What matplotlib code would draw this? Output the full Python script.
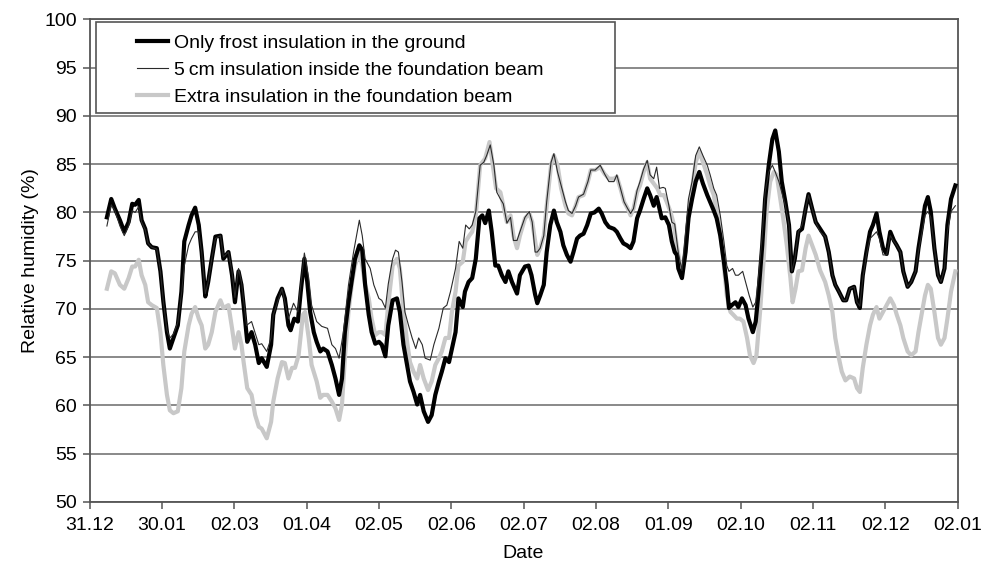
import matplotlib
matplotlib.use("Agg")
import matplotlib.pyplot as plt
from matplotlib.patches import Rectangle

plt.rcParams['font.family'] = ['Liberation Sans', 'DejaVu Sans']

date_labels = ["31.12", "30.01", "02.03", "01.04", "02.05", "02.06", "02.07",
               "02.08", "01.09", "02.10", "02.11", "02.12", "02.01"]
y_ticks = [50, 55, 60, 65, 70, 75, 80, 85, 90, 95, 100]

series_names = ["Only frost insulation in the ground",
                "5\u2009cm insulation inside the foundation beam",
                "Extra insulation in the foundation beam"]

# positions in units of the date ticks (0 = 31.12, 12 = 02.01)
frost_x = [0.24, 0.30, 0.35, 0.42, 0.48, 0.54, 0.59, 0.63, 0.68, 0.72, 0.77, 0.81, 0.86, 0.93, 0.98,
           1.02, 1.07, 1.11, 1.16, 1.22, 1.27, 1.31, 1.37, 1.41, 1.46, 1.51, 1.55, 1.60, 1.64, 1.69,
           1.74, 1.81, 1.85, 1.92, 1.97, 2.01, 2.06, 2.10, 2.13, 2.18, 2.24, 2.29, 2.34, 2.38, 2.45,
           2.51, 2.54, 2.60, 2.66, 2.70, 2.75, 2.78, 2.83, 2.88, 2.92, 2.97, 3.01, 3.05, 3.10, 3.14,
           3.19, 3.23, 3.29, 3.35, 3.40, 3.45, 3.49, 3.53, 3.58, 3.63, 3.67, 3.73, 3.77, 3.81, 3.86,
           3.90, 3.95, 4.00, 4.04, 4.09, 4.13, 4.19, 4.25, 4.29, 4.34, 4.39, 4.43, 4.48, 4.53, 4.57,
           4.62, 4.68, 4.73, 4.78, 4.83, 4.87, 4.92, 4.97, 5.01, 5.06, 5.10, 5.16, 5.19, 5.24, 5.29,
           5.34, 5.39, 5.43, 5.47, 5.52, 5.56, 5.61, 5.65, 5.70, 5.75, 5.79, 5.84, 5.91, 5.95, 6.02,
           6.07, 6.11, 6.16, 6.19, 6.23, 6.28, 6.32, 6.37, 6.42, 6.46, 6.51, 6.55, 6.60, 6.65, 6.69,
           6.74, 6.78, 6.83, 6.88, 6.93, 6.98, 7.04, 7.08, 7.13, 7.18, 7.25, 7.29, 7.34, 7.38, 7.43,
           7.48, 7.52, 7.57, 7.61, 7.66, 7.71, 7.75, 7.80, 7.84, 7.87, 7.91, 7.96, 8.01, 8.05, 8.09,
           8.12, 8.14, 8.19, 8.24, 8.28, 8.33, 8.38, 8.43, 8.48, 8.54, 8.58, 8.63, 8.67, 8.72, 8.77,
           8.81, 8.84, 8.88, 8.93, 8.97, 9.02, 9.07, 9.11, 9.17, 9.21, 9.25, 9.30, 9.34, 9.39, 9.44,
           9.48, 9.53, 9.57, 9.62, 9.67, 9.71, 9.75, 9.80, 9.85, 9.90, 9.94, 9.99, 10.04, 10.10, 10.17,
           10.22, 10.27, 10.31, 10.36, 10.42, 10.46, 10.51, 10.57, 10.61, 10.65, 10.69, 10.74, 10.79,
           10.83, 10.88, 10.92, 10.97, 11.02, 11.07, 11.12, 11.16, 11.21, 11.25, 11.31, 11.36, 11.42,
           11.46, 11.51, 11.55, 11.59, 11.63, 11.68, 11.73, 11.77, 11.82, 11.86, 11.91, 11.97]
frost_y = [79.5, 81.4, 80.4, 79.2, 78.0, 79.0, 80.9, 80.8, 81.3, 79.2, 78.3, 76.8, 76.4, 76.3, 73.9,
           70.8, 67.6, 65.9, 67.0, 68.3, 71.8, 77.0, 78.7, 79.7, 80.5, 78.7, 75.9, 71.3, 72.8, 75.2,
           77.5, 77.6, 75.2, 75.9, 73.5, 70.7, 73.9, 72.5, 70.4, 66.6, 67.6, 66.3, 64.4, 64.9, 64.0,
           66.3, 69.4, 71.1, 72.1, 71.1, 68.3, 67.8, 69.0, 68.7, 71.8, 75.2, 72.8, 69.7, 67.6, 66.6,
           65.6, 65.9, 65.6, 64.2, 62.8, 61.1, 62.8, 67.6, 70.7, 73.2, 75.2, 76.6, 76.1, 72.5, 69.4,
           67.6, 66.4, 66.6, 66.3, 65.1, 68.3, 70.9, 71.1, 69.7, 66.3, 64.2, 62.5, 61.4, 60.1, 61.1,
           59.4, 58.3, 59.0, 61.1, 62.5, 63.5, 64.9, 64.5, 65.9, 67.6, 71.1, 70.2, 71.8, 72.8, 73.2,
           75.2, 79.4, 79.7, 78.9, 80.2, 78.0, 74.5, 74.5, 73.5, 72.8, 73.9, 72.8, 71.6, 73.5, 74.4,
           74.5, 73.5, 71.5, 70.6, 71.4, 72.5, 75.9, 78.7, 80.2, 79.0, 78.0, 76.6, 75.6, 74.9, 75.9,
           77.3, 77.6, 77.8, 78.7, 79.9, 80.0, 80.4, 79.9, 79.0, 78.5, 78.3, 78.0, 77.3, 76.8, 76.6,
           76.3, 77.0, 79.4, 80.2, 81.4, 82.5, 81.8, 80.7, 81.6, 80.7, 79.4, 79.5, 78.7, 77.0, 75.9,
           75.6, 74.2, 73.2, 75.9, 79.4, 81.4, 83.2, 84.2, 83.0, 81.8, 81.1, 80.2, 79.4, 77.6, 74.9,
           72.5, 70.1, 70.4, 70.7, 70.2, 71.1, 70.4, 69.0, 67.6, 68.7, 71.8, 76.6, 81.4, 84.9, 87.6,
           88.5, 86.3, 83.2, 81.1, 78.7, 73.9, 75.2, 78.0, 78.3, 80.4, 81.9, 80.4, 79.0, 78.3, 77.5,
           75.9, 73.5, 72.5, 71.8, 70.9, 70.9, 72.1, 72.3, 70.7, 70.1, 73.5, 75.9, 78.0,
           78.7, 79.9, 78.0, 76.3, 75.7, 78.0, 77.1, 76.6, 75.9, 73.9, 72.3, 72.8, 73.9,
           76.3, 78.7, 80.7, 81.6, 80.1, 76.3, 73.5, 72.8, 74.2, 78.7, 81.4, 82.8]

beam5_x = [0.24, 0.30, 0.35, 0.42, 0.48, 0.54, 0.59, 0.63, 0.68, 0.72, 0.77, 0.81, 0.86, 0.93, 0.98,
           1.02, 1.07, 1.11, 1.16, 1.22, 1.27, 1.31, 1.37, 1.41, 1.46, 1.51, 1.55, 1.60, 1.64, 1.69,
           1.74, 1.81, 1.85, 1.92, 1.97, 2.01, 2.06, 2.10, 2.17, 2.24, 2.34, 2.38, 2.45, 2.51, 2.54,
           2.66, 2.75, 2.82, 2.88, 2.92, 2.97, 3.03, 3.07, 3.14, 3.21, 3.29, 3.35, 3.40, 3.45, 3.51,
           3.58, 3.65, 3.73, 3.77, 3.81, 3.88, 3.93, 4.00, 4.04, 4.09, 4.13, 4.19, 4.23, 4.27, 4.32,
           4.36, 4.41, 4.46, 4.51, 4.55, 4.60, 4.64, 4.71, 4.76, 4.83, 4.89, 4.94, 4.99, 5.06, 5.11,
           5.16, 5.20, 5.25, 5.29, 5.34, 5.40, 5.45, 5.49, 5.54, 5.59, 5.63, 5.68, 5.72, 5.77, 5.82,
           5.86, 5.91, 5.95, 6.02, 6.08, 6.12, 6.16, 6.19, 6.23, 6.28, 6.32, 6.38, 6.42, 6.47, 6.52,
           6.58, 6.62, 6.67, 6.72, 6.76, 6.83, 6.89, 6.93, 6.99, 7.06, 7.12, 7.18, 7.25, 7.29, 7.34,
           7.39, 7.44, 7.48, 7.52, 7.57, 7.61, 7.66, 7.71, 7.75, 7.80, 7.84, 7.88, 7.93, 7.96, 8.01,
           8.05, 8.09, 8.14, 8.19, 8.24, 8.28, 8.33, 8.38, 8.43, 8.48, 8.54, 8.58, 8.63, 8.67, 8.72,
           8.77, 8.81, 8.84, 8.89, 8.93, 8.97, 9.03, 9.07, 9.12, 9.17, 9.21, 9.25, 9.30, 9.34, 9.39,
           9.44, 9.48, 9.53, 9.57, 9.62, 9.67, 9.71, 9.75, 9.80, 9.85, 9.90, 9.94, 9.99, 10.04, 10.10,
           10.17, 10.22, 10.27, 10.31, 10.36, 10.42, 10.46, 10.51, 10.57, 10.61, 10.65, 10.69, 10.74,
           10.79, 10.83, 10.88, 10.92, 10.97, 11.02, 11.07, 11.12, 11.16, 11.21, 11.25, 11.31, 11.36,
           11.42, 11.46, 11.51, 11.55, 11.59, 11.63, 11.68, 11.73, 11.77, 11.82, 11.86, 11.91, 11.97]
beam5_y = [78.6, 80.8, 80.2, 78.6, 77.6, 78.6, 80.2, 80.0, 80.6, 79.0, 78.2, 76.8, 76.4, 76.2, 73.9,
           70.8, 67.8, 67.0, 67.4, 68.6, 71.5, 74.5, 76.6, 77.3, 78.0, 78.0, 75.9, 71.6, 72.8, 75.2,
           77.3, 77.6, 75.4, 75.9, 73.8, 71.2, 74.2, 72.8, 68.3, 68.7, 66.3, 66.4, 65.6, 67.0, 69.4,
           72.1, 69.0, 70.6, 69.7, 72.5, 75.8, 73.2, 70.4, 68.7, 68.2, 68.0, 66.3, 65.9, 64.9, 67.6,
           72.5, 75.9, 79.2, 77.6, 75.2, 74.2, 72.5, 71.1, 70.9, 70.1, 72.6, 75.2, 76.1, 75.9, 72.8,
           69.7, 68.3, 67.0, 65.9, 67.0, 66.3, 64.9, 64.7, 66.3, 68.0, 70.1, 70.4, 71.8, 74.2, 77.0,
           76.3, 78.7, 78.3, 78.7, 80.1, 84.9, 85.2, 85.9, 87.0, 84.9, 82.1, 81.4, 80.9, 78.9, 79.5,
           77.1, 77.1, 78.0, 79.5, 80.1, 79.0, 75.9, 75.9, 76.3, 77.6, 81.1, 85.2, 86.1, 84.2, 82.8,
           81.1, 80.2, 79.9, 80.7, 81.6, 81.9, 83.2, 84.4, 84.4, 84.9, 84.0, 83.2, 83.2, 83.9, 82.5,
           81.1, 80.4, 79.9, 80.4, 82.3, 83.2, 84.5, 85.4, 83.9, 83.5, 84.7, 82.5, 82.6, 82.5, 80.7,
           79.0, 78.8, 75.8, 74.0, 78.0, 81.4, 83.2, 85.9, 86.8, 85.9, 84.9, 83.9, 82.5, 81.8, 79.7,
           77.0, 74.5, 73.9, 74.2, 73.5, 73.5, 73.9, 72.8, 71.4, 70.2, 70.7, 73.5, 77.6, 82.1, 84.2,
           84.9, 84.2, 83.2, 82.1, 80.7, 78.7, 73.9, 75.2, 78.0, 78.7, 80.4, 81.8, 80.4, 79.0, 78.0,
           77.5, 75.9, 73.5, 72.5, 71.8, 70.9, 70.9, 72.1, 72.3, 70.7, 70.3, 73.2, 75.6,
           77.3, 77.6, 78.0, 77.3, 75.6, 75.6, 77.6, 77.0, 76.6, 75.9, 73.9, 72.3, 72.8,
           73.9, 76.0, 78.0, 79.7, 80.1, 79.5, 76.3, 73.5, 72.8, 74.2, 78.0, 80.1, 80.7]

extra_x = [0.24, 0.30, 0.35, 0.42, 0.48, 0.54, 0.59, 0.63, 0.68, 0.72, 0.77, 0.81, 0.86, 0.93, 0.98,
           1.02, 1.07, 1.11, 1.16, 1.22, 1.27, 1.31, 1.37, 1.41, 1.46, 1.51, 1.55, 1.60, 1.64, 1.69,
           1.74, 1.81, 1.85, 1.92, 1.97, 2.01, 2.06, 2.10, 2.13, 2.18, 2.24, 2.29, 2.34, 2.38, 2.45,
           2.51, 2.54, 2.60, 2.66, 2.70, 2.75, 2.80, 2.84, 2.89, 2.95, 2.98, 3.03, 3.07, 3.14, 3.19,
           3.23, 3.29, 3.35, 3.40, 3.45, 3.49, 3.53, 3.58, 3.63, 3.67, 3.73, 3.77, 3.81, 3.86, 3.90,
           3.95, 4.00, 4.04, 4.09, 4.13, 4.19, 4.25, 4.29, 4.34, 4.39, 4.43, 4.48, 4.53, 4.57, 4.62,
           4.68, 4.73, 4.78, 4.83, 4.87, 4.92, 4.97, 5.01, 5.06, 5.10, 5.16, 5.20, 5.25, 5.29, 5.34,
           5.40, 5.47, 5.53, 5.57, 5.62, 5.68, 5.72, 5.77, 5.82, 5.86, 5.91, 5.95, 6.02, 6.08, 6.12,
           6.19, 6.23, 6.28, 6.32, 6.38, 6.42, 6.47, 6.52, 6.58, 6.62, 6.67, 6.72, 6.76, 6.83, 6.89,
           6.93, 6.99, 7.06, 7.12, 7.18, 7.25, 7.29, 7.34, 7.39, 7.44, 7.48, 7.52, 7.57, 7.61, 7.66,
           7.71, 7.75, 7.80, 7.85, 7.89, 7.94, 7.98, 8.03, 8.08, 8.12, 8.19, 8.24, 8.28, 8.33, 8.38,
           8.43, 8.48, 8.54, 8.58, 8.63, 8.67, 8.72, 8.77, 8.81, 8.86, 8.90, 8.95, 8.99, 9.04, 9.09,
           9.13, 9.18, 9.22, 9.27, 9.32, 9.36, 9.41, 9.46, 9.50, 9.55, 9.59, 9.64, 9.69, 9.72, 9.76,
           9.80, 9.85, 9.90, 9.94, 9.99, 10.04, 10.10, 10.17, 10.22, 10.27, 10.31, 10.36, 10.40, 10.45,
           10.51, 10.57, 10.61, 10.65, 10.69, 10.74, 10.79, 10.83, 10.88, 10.92, 10.97, 11.02, 11.07,
           11.12, 11.16, 11.21, 11.25, 11.31, 11.36, 11.42, 11.46, 11.51, 11.55, 11.59, 11.63, 11.68,
           11.73, 11.77, 11.82, 11.86, 11.91, 11.97]
extra_y = [72.1, 73.9, 73.7, 72.5, 72.1, 73.2, 74.4, 74.4, 75.1, 73.5, 72.5, 70.7, 70.4, 70.1, 67.6,
           64.2, 61.1, 59.5, 59.2, 59.4, 61.8, 65.6, 68.3, 69.5, 70.2, 69.0, 68.3, 65.9, 66.3, 67.6,
           69.7, 70.9, 70.1, 70.4, 68.0, 65.9, 67.6, 66.3, 64.5, 61.8, 61.1, 59.0, 57.8, 57.6, 56.6,
           58.3, 60.4, 62.8, 64.5, 64.4, 62.8, 63.9, 63.9, 65.2, 69.4, 69.7, 67.0, 64.2, 62.5, 60.8,
           61.1, 61.1, 60.4, 59.7, 58.5, 60.1, 64.9, 69.7, 72.8, 74.5, 75.9, 74.5, 72.5, 71.1, 69.0,
           67.3, 67.6, 67.6, 67.3, 70.5, 74.5, 75.2, 74.2, 69.7, 66.6, 64.5, 63.5, 62.8, 64.2, 62.8,
           61.6, 62.5, 64.2, 64.9, 65.6, 67.0, 67.0, 69.7, 71.8, 74.5, 74.9, 77.0, 77.6, 78.0, 79.7,
           84.9, 85.6, 87.3, 85.2, 82.5, 82.1, 80.7, 79.0, 79.7, 77.6, 76.3, 77.6, 79.4, 79.9, 79.0,
           75.6, 76.3, 77.6, 80.7, 84.9, 85.9, 84.9, 82.5, 80.7, 79.9, 79.7, 80.7, 81.6, 81.8, 83.2,
           84.4, 84.4, 84.7, 84.0, 83.5, 83.5, 83.7, 82.5, 81.1, 80.4, 79.7, 80.4, 82.1, 82.8, 84.2,
           85.2, 83.5, 83.0, 82.5, 81.8, 81.8, 81.1, 80.1, 78.7, 76.5, 73.5, 76.3, 79.4, 82.5, 85.2,
           86.3, 85.2, 83.9, 82.8, 81.8, 80.1, 78.0, 74.5, 71.4, 69.7, 69.4, 69.0, 69.0, 68.7, 67.0,
           65.2, 64.4, 65.2, 69.7, 75.2, 80.1, 83.2, 84.2, 83.9, 81.4, 79.4, 76.6, 73.2, 70.7, 72.1,
           73.9, 74.0, 76.3, 77.6, 76.6, 75.6, 74.0, 72.8, 71.4, 69.7, 67.0, 64.9, 63.5, 62.6,
           63.0, 62.8, 61.8, 61.4, 63.9, 66.3, 68.3, 69.4, 70.2, 69.0, 69.7, 70.4, 71.1,
           70.4, 69.4, 68.3, 67.0, 65.6, 65.2, 65.6, 67.6, 69.7, 71.4, 72.5, 72.1, 69.7,
           67.0, 66.3, 67.0, 69.0, 71.8, 73.9]

FS = 14

fig = plt.figure(figsize=(9.84, 5.68), dpi=100)
ax = fig.add_axes([0.091, 0.1162, 0.8821, 0.8495])

ax.plot(extra_x, extra_y, color='#c8c8c8', lw=3.0, zorder=3, label=series_names[2],
        solid_joinstyle='round')
ax.plot(frost_x, frost_y, color='black', lw=3.0, zorder=4, label=series_names[0],
        solid_joinstyle='round')
ax.plot(beam5_x, beam5_y, color='#2a2a2a', lw=0.8, zorder=5, label=series_names[1])

ax.set_xlim(0, 12)
ax.set_ylim(50, 100)
ax.set_xticks(range(len(date_labels)))
ax.set_xticklabels(date_labels)
ax.set_yticks(y_ticks)
ax.set_axisbelow(True)
ax.grid(axis='y', color='#808080', lw=1.3)
ax.grid(axis='x', visible=False)
for s in ax.spines.values():
    s.set_color('#555555')
    s.set_linewidth(1.3)
ax.tick_params(direction='out', length=5, width=1.1, colors='#555555',
               labelcolor='black', labelsize=FS)
ax.tick_params(axis='x', pad=6)
ax.tick_params(axis='y', pad=4)

ax.set_ylabel("Relative humidity (%)", fontsize=FS)
ax.yaxis.set_label_coords(-0.058, 0.5)
ax.set_xlabel("Date", fontsize=FS, labelpad=8)

# legend box
ax.add_patch(Rectangle((0.0075, 0.806), 0.598, 0.188, transform=ax.transAxes,
                       facecolor='white', edgecolor='#555555', lw=1.2, zorder=2.5))
h, l = ax.get_legend_handles_labels()
order = [1, 2, 0]
leg = ax.legend([h[i] for i in order], [l[i] for i in order], loc='upper left',
                bbox_to_anchor=(0.05, 0.978), frameon=False, fontsize=FS,
                handlelength=1.6, handletextpad=0.3, labelspacing=0.5,
                borderaxespad=0, borderpad=0.2)
leg.set_zorder(6)

fig.savefig("out.png", dpi=100)
